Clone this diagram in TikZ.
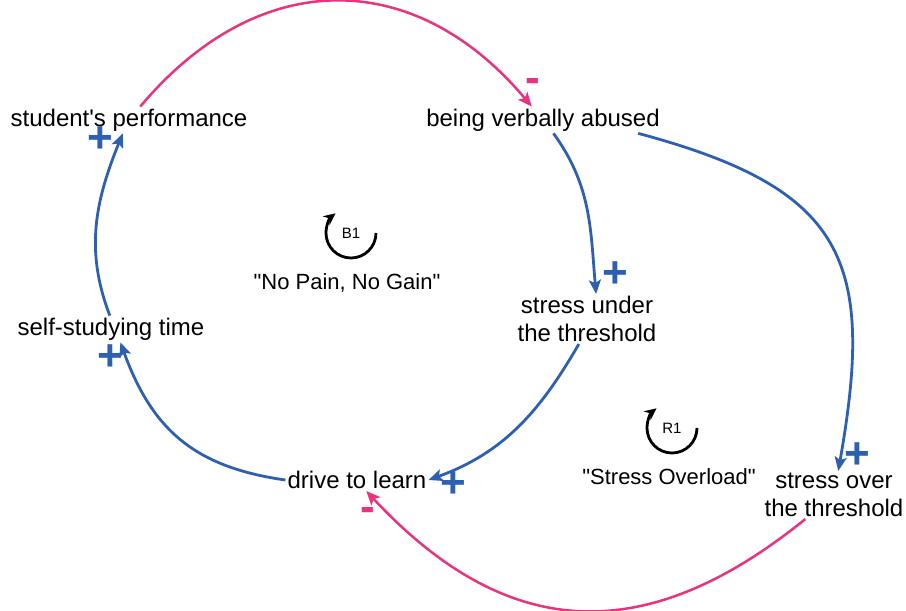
\documentclass[tikz,border=0pt]{standalone}
\usepackage{fontspec}
\setmainfont{Liberation Sans}
\usetikzlibrary{arrows.meta}

\definecolor{linkblue}{RGB}{46,96,178}
\definecolor{linkpink}{RGB}{233,51,126}

\begin{document}
\begin{tikzpicture}[x=1pt, y=1pt,
    every node/.style={font=\fontsize{24}{28}\selectfont, inner sep=2pt, align=center},
    poslink/.style={color=linkblue, line width=2.8pt, -{Stealth[length=14pt,width=12pt,inset=3pt]}},
    neglink/.style={poslink, color=linkpink, line width=2.5pt},
    plussign/.style={text=linkblue, inner sep=0pt, text height=26pt, text depth=-4.8pt,
        font=\fontsize{44}{44}\selectfont\bfseries},
    minussign/.style={text=linkpink, inner sep=0pt, text height=13.6pt, text depth=-8.4pt,
        font=\fontsize{44}{44}\selectfont\bfseries},
    looptag/.style={font=\fontsize{15}{18}\selectfont},
    loopname/.style={font=\fontsize{22}{26}\selectfont},
    looparrow/.style={line width=2.8pt, -{Stealth[length=12pt,width=11pt]}}]
    \useasboundingbox (0,0) rectangle (906,611);

    % Variables
    \node (perf)   at (129,491) {student\textquotesingle s performance};
    \node (abused) at (543,491) {being verbally abused};
    \node (under)  at (587,292) {stress under\\the threshold};
    \node (over)   at (834,116) {stress over\\the threshold};
    \node (study)  at (111,282) {self-studying time};
    \node (drive)  at (357,131) {drive to learn};

    % Loop B1: No Pain, No Gain
    \draw[neglink] (perf) to[out=50,in=130,looseness=1.2] (abused);
    \draw[poslink] (abused.-52) to[out=-54,in=95] (under.70);
    \draw[poslink] (under.-108) to[out=-120,in=20] (drive.east);
    \draw[poslink] (drive.west) to[out=172,in=-70,looseness=1.1] (study.-55);
    \draw[poslink] (study.95) to[out=111,in=-112] (perf.-115);

    % Loop R1: Stress Overload
    \draw[poslink] (abused.-8) to[out=-15,in=80,looseness=1.4] (over.80);
    \draw[neglink] (over.-140) to[out=-141,in=-47,looseness=1.2] (drive.-50);

    % Polarities
    \node[minussign] (s1) at (533,525) {-};
    \node[plussign]  (s2) at (615,336) {+};
    \node[plussign]  (s3) at (857,155) {+};
    \node[plussign]  (s4) at (453,126) {+};
    \node[minussign] (s5) at (368,96)  {-};
    \node[plussign]  (s6) at (110,253) {+};
    \node[plussign]  (s7) at (100,471) {+};

    % Loop markers
    \node[looptag]  (b1)  at (351,378) {B1};
    \draw[looparrow] ([xshift=25pt]b1.center) arc[start angle=0, end angle=-232, radius=25];
    \node[loopname] (b1name) at (347,328) {\textquotedbl No Pain, No Gain\textquotedbl};

    \node[looptag]  (r1)  at (672,183) {R1};
    \draw[looparrow] ([xshift=25pt]r1.center) arc[start angle=0, end angle=-232, radius=25];
    \node[loopname] (r1name) at (669,134) {\textquotedbl Stress Overload\textquotedbl};
\end{tikzpicture}
\end{document}
